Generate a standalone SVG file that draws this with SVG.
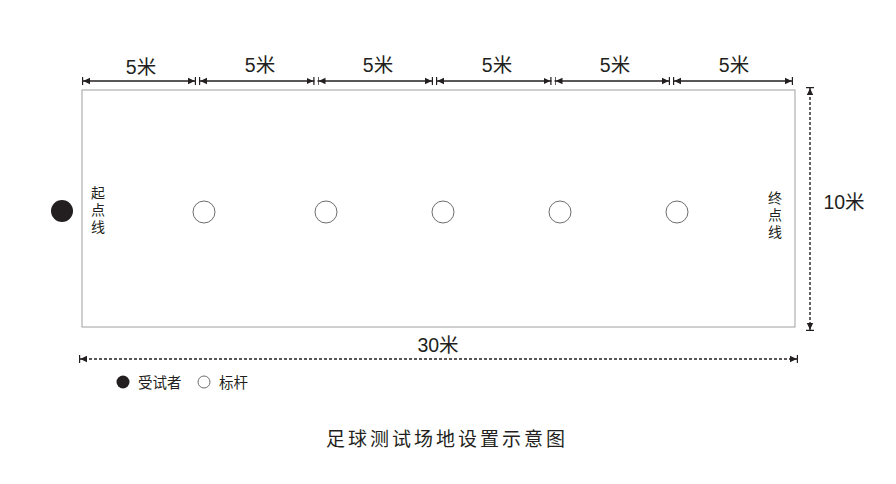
<svg xmlns="http://www.w3.org/2000/svg" width="896" height="484" viewBox="0 0 896 484">
<style>
.t{font-family:"Liberation Sans","Noto Sans CJK SC",sans-serif;fill:#231f20}
.dim{stroke:#231f20;stroke-width:1.4;fill:none}
.dash{stroke:#231f20;stroke-width:1.4;fill:none;stroke-dasharray:3 2}
.pole{fill:#fff;stroke:#6d6d6d;stroke-width:1}
</style>
<defs>
<marker id="ab" viewBox="0 0 10 10" refX="10" refY="5" markerWidth="8" markerHeight="8" markerUnits="userSpaceOnUse" orient="auto-start-reverse">
<path d="M0,1 L8.5,5 L0,9 z M8.5,0 H10 V10 H8.5 z" fill="#231f20"/>
</marker>
</defs>
<rect width="896" height="484" fill="#fff"/>
<g id="field"><rect x="82" y="90" width="713" height="237" fill="#fff" stroke="#a0a0a0" stroke-width="1"/></g>
<g id="connectors">
<line class="dim" x1="82" y1="81" x2="196" y2="81" marker-start="url(#ab)" marker-end="url(#ab)"/>
<line class="dim" x1="199" y1="81" x2="314.5" y2="81" marker-start="url(#ab)" marker-end="url(#ab)"/>
<line class="dim" x1="317.5" y1="81" x2="433" y2="81" marker-start="url(#ab)" marker-end="url(#ab)"/>
<line class="dim" x1="436" y1="81" x2="551.5" y2="81" marker-start="url(#ab)" marker-end="url(#ab)"/>
<line class="dim" x1="554.5" y1="81" x2="670" y2="81" marker-start="url(#ab)" marker-end="url(#ab)"/>
<line class="dim" x1="673" y1="81" x2="793" y2="81" marker-start="url(#ab)" marker-end="url(#ab)"/>
<line class="dash" x1="810" y1="87" x2="810" y2="331" marker-start="url(#ab)" marker-end="url(#ab)"/>
<line class="dash" x1="79" y1="359" x2="798" y2="359" marker-start="url(#ab)" marker-end="url(#ab)"/>
</g>
<g id="dim-labels" class="t" font-size="19.5" text-anchor="middle">
<text x="141" y="74">5米</text>
<text x="260" y="72">5米</text>
<text x="378" y="72">5米</text>
<text x="497" y="72">5米</text>
<text x="615" y="72">5米</text>
<text x="734" y="72">5米</text>
<text x="844" y="209">10米</text>
<text x="438" y="352">30米</text>
</g>
<g id="subject"><circle cx="62" cy="211" r="11" fill="#231f20"/></g>
<g id="start-line" class="t" font-size="14" text-anchor="middle">
<text x="98" y="198">起</text><text x="98" y="215">点</text><text x="98" y="232">线</text>
</g>
<g id="end-line" class="t" font-size="14" text-anchor="middle">
<text x="775" y="203">终</text><text x="775" y="220">点</text><text x="775" y="237">线</text>
</g>
<g id="poles">
<circle class="pole" cx="204" cy="212" r="11"/>
<circle class="pole" cx="326" cy="212" r="11"/>
<circle class="pole" cx="443" cy="212" r="11"/>
<circle class="pole" cx="560" cy="212" r="11"/>
<circle class="pole" cx="677" cy="212" r="11"/>
</g>
<g id="legend">
<circle cx="123" cy="382" r="6.5" fill="#231f20"/>
<text class="t" x="138" y="387.5" font-size="14.5">受试者</text>
<circle class="pole" cx="204" cy="382" r="6"/>
<text class="t" x="219" y="387.5" font-size="14.5">标杆</text>
</g>
<g id="title"><text class="t" x="447" y="446" font-size="19" letter-spacing="3" text-anchor="middle">足球测试场地设置示意图</text></g>
</svg>
